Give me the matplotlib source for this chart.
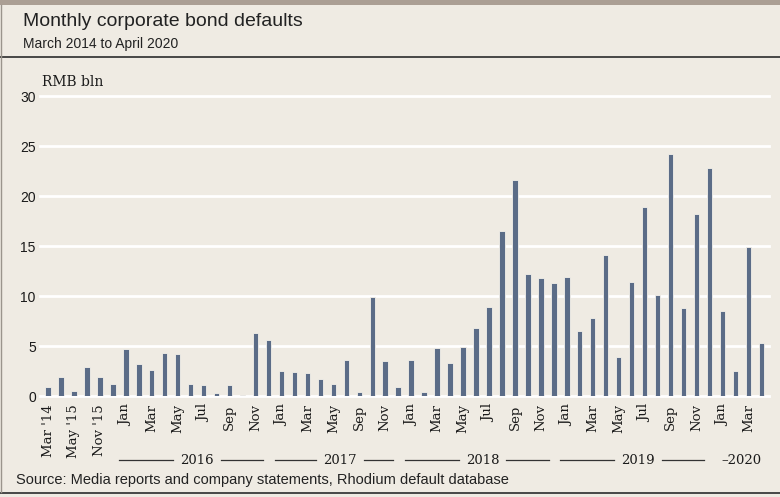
import matplotlib
matplotlib.use("Agg")
import matplotlib.pyplot as plt
from matplotlib.lines import Line2D
from matplotlib.patches import Rectangle
import matplotlib.transforms as mtransforms

# ---- data ----
months = ["Mar '14", "Jul '14", "May '15", "Aug '15", "Nov '15", "Dec '15",
          "Jan 16", "Feb 16", "Mar 16", "Apr 16", "May 16", "Jun 16",
          "Jul 16", "Aug 16", "Sep 16", "Oct 16", "Nov 16", "Dec 16",
          "Jan 17", "Feb 17", "Mar 17", "Apr 17", "May 17", "Jul 17",
          "Sep 17", "Oct 17", "Nov 17", "Dec 17",
          "Jan 18", "Feb 18", "Mar 18", "Apr 18", "May 18", "Jun 18",
          "Jul 18", "Aug 18", "Sep 18", "Oct 18", "Nov 18", "Dec 18",
          "Jan 19", "Feb 19", "Mar 19", "Apr 19", "May 19", "Jun 19",
          "Jul 19", "Aug 19", "Sep 19", "Oct 19", "Nov 19", "Dec 19",
          "Jan 20", "Feb 20", "Mar 20", "Apr 20"]
defaults = [0.9, 1.9, 0.5, 2.9, 1.9, 1.2,
            4.7, 3.2, 2.6, 4.3, 4.2, 1.2,
            1.1, 0.3, 1.1, 0.1, 6.3, 5.6,
            2.5, 2.4, 2.3, 1.7, 1.2, 3.6,
            0.4, 9.9, 3.5, 0.9,
            3.6, 0.4, 4.8, 3.3, 4.9, 6.8,
            8.9, 16.5, 21.6, 12.2, 11.8, 11.3,
            11.9, 6.5, 7.8, 14.1, 3.9, 11.4,
            18.9, 10.1, 24.2, 8.8, 18.2, 22.8,
            8.5, 2.5, 14.9, 5.3]
tick_labels = ["Mar '14", "", "May '15", "", "Nov '15", "",
               "Jan", "", "Mar", "", "May", "", "Jul", "", "Sep", "", "Nov", "",
               "Jan", "", "Mar", "", "May", "", "Sep", "", "Nov", "",
               "Jan", "", "Mar", "", "May", "", "Jul", "", "Sep", "", "Nov", "",
               "Jan", "", "Mar", "", "May", "", "Jul", "", "Sep", "", "Nov", "",
               "Jan", "", "Mar", ""]
year_groups = [("2016", 6, 17), ("2017", 18, 27), ("2018", 28, 39), ("2019", 40, 51)]
last_year = ("\u20132020", 52, 55)
yticks = [0, 5, 10, 15, 20, 25, 30]

BG = "#efebe3"
BAR = "#5b6c87"

W, H = 780, 497
fig = plt.figure(figsize=(W / 100, H / 100), dpi=100, facecolor=BG)

# decoration
fig.patches.append(Rectangle((0, 1 - 5 / H), 1, 5 / H, transform=fig.transFigure,
                             facecolor="#ab9f94", edgecolor="none", zorder=0))
fig.add_artist(Line2D([0, 1], [1 - 56.5 / H] * 2, transform=fig.transFigure,
                      color="#3a3a3a", lw=1.3))
fig.add_artist(Line2D([0, 1], [1 - 492.5 / H] * 2, transform=fig.transFigure,
                      color="#3a3a3a", lw=1.3))
fig.add_artist(Line2D([0.6 / W] * 2, [1 - 492 / H, 1 - 5 / H], transform=fig.transFigure,
                      color="#9a948c", lw=1.0))

fig.text(23 / W, 1 - 21 / H, "Monthly corporate bond defaults", fontsize=14,
         family="Liberation Sans", va="center", ha="left", color="#222222")
fig.text(23 / W, 1 - 44 / H, "March 2014 to April 2020", fontsize=10,
         family="Liberation Sans", va="center", ha="left", color="#222222")
fig.text(16 / W, 1 - 480 / H,
         "Source: Media reports and company statements, Rhodium default database",
         fontsize=10.5, family="Liberation Sans", va="center", ha="left", color="#222222")

ax_l, ax_r, ax_t, ax_b = 40, 769, 96, 396
ax = fig.add_axes([ax_l / W, 1 - ax_b / H, (ax_r - ax_l) / W, (ax_b - ax_t) / H])
ax.set_facecolor(BG)

x = list(range(len(defaults)))
ax.bar(x, defaults, width=0.42, color=BAR, edgecolor="#f4f1ea", linewidth=0.6, zorder=3)

step = 12.97
xmin = -(48 - ax_l) / step
ax.set_xlim(xmin, xmin + (ax_r - ax_l) / step)
ax.set_ylim(0, 30)
ax.set_yticks(yticks)
ax.set_yticklabels([str(v) for v in yticks], family="Liberation Sans", fontsize=10)
for v in yticks:
    ax.axhline(v, color="white", lw=2.0, zorder=1, clip_on=False)
ax.set_xticks(x)
ax.set_xticklabels(tick_labels, rotation=90, family="DejaVu Serif", fontsize=9.5,
                   va="top", ha="center")
ax.tick_params(axis="both", length=0, colors="#1a1a1a")
ax.tick_params(axis="x", pad=6)
ax.tick_params(axis="y", pad=3)
for s in ax.spines.values():
    s.set_visible(False)

ax.text(42 / W, 1 - 82 / H, "RMB bln", transform=fig.transFigure, family="DejaVu Serif",
        fontsize=10, va="center", ha="left", color="#1a1a1a")

trans = mtransforms.blended_transform_factory(ax.transData, ax.transAxes)
yy = -(460 - ax_b) / (ax_b - ax_t)
gap = 1.85
for label, s, e in year_groups:
    c = (s + e) / 2
    ax.text(c, yy, label, transform=trans, family="DejaVu Serif", fontsize=9.5,
            ha="center", va="center", color="#1a1a1a", clip_on=False)
    ax.add_line(Line2D([s - 0.5, c - gap], [yy, yy], transform=trans, color="#333333",
                       lw=0.9, clip_on=False))
    ax.add_line(Line2D([c + gap, e - 0.4], [yy, yy], transform=trans, color="#333333",
                       lw=0.9, clip_on=False))
label, s, e = last_year
ax.text((s + e) / 2, yy, label, transform=trans, family="DejaVu Serif", fontsize=9.5,
        ha="center", va="center", color="#1a1a1a", clip_on=False)

fig.savefig("out.png", dpi=100, facecolor=BG)
